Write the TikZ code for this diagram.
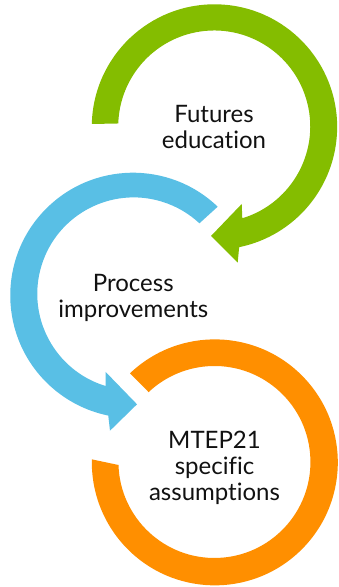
\documentclass[tikz,border=0pt]{standalone}
\usepackage{fontspec}
\setmainfont[Ligatures=NoCommon]{Lato}
\definecolor{ringgreen}{HTML}{84BD00}
\definecolor{ringblue}{HTML}{59BFE5}
\definecolor{ringorange}{HTML}{FF8F00}
\definecolor{inktext}{HTML}{111111}
\tikzset{
  label text/.style={text=inktext,align=center,inner sep=0pt,font=\fontsize{24}{25.8}\selectfont},
}
\begin{document}
\begin{tikzpicture}[x=1pt,y=1pt]
\useasboundingbox (0,0) rectangle (338,587);
% green ring: image centre (214.5,127)
\fill[ringgreen] (91.8,463)
  arc[start angle=178.6,end angle=-78.4,radius=122.7pt]
  -- (237.7,324.3) -- (211,351) -- (241.7,383) -- (242.3,368.7)
  arc[start angle=-73,end angle=178.2,radius=96pt] -- cycle;
% blue ring: image centre (133.4,295)
\fill[ringblue] (217.7,380.3)
  arc[start angle=46.3,end angle=258.4,radius=122.7pt]
  -- (110,156.3) -- (137,182.7) -- (105.7,215) -- (105.5,201)
  arc[start angle=253,end angle=47,radius=96.4pt] -- cycle;
% orange ring: image centre (214.5,462)
\fill[ringorange] (130,213.7)
  arc[start angle=133.6,end angle=-181.4,radius=123pt]
  -- (118.5,122)
  arc[start angle=-178.2,end angle=133.3,radius=96pt] -- cycle;
\node[label text] (futures) at (214,460) {Futures\\education};
\node[label text] (process) at (133.3,288.7) {Process\\improvements};
\node[label text] (mtep) at (214.5,119) {MTEP21\\specific\\assumptions};
\end{tikzpicture}
\end{document}
